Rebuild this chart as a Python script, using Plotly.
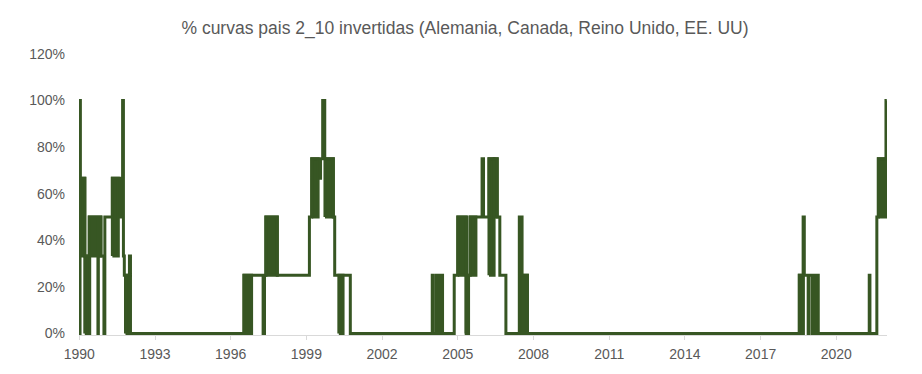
import plotly.graph_objects as go

# Step series: date where the share changes, and the new share of inverted curves
step_dates = [
    "1990-01-01", "1990-01-08", "1990-01-12", "1990-01-17", "1990-03-22", "1990-05-26",
    "1990-09-28", "1990-10-04", "1990-11-10", "1990-12-24", "1991-01-06", "1991-04-25",
    "1991-08-18", "1991-09-20", "1991-10-02", "1991-10-15", "1991-12-28", "1992-01-12",
    "1996-07-12", "1997-04-15", "1997-05-05", "1997-05-25", "1997-11-06", "1999-02-14",
    "1999-03-20", "1999-07-15", "1999-07-25", "1999-08-25", "1999-09-24", "2000-01-26",
    "2000-02-15", "2000-09-28", "2003-12-28", "2004-01-08", "2004-02-22", "2004-03-01",
    "2004-03-22", "2004-03-30", "2004-04-25", "2004-05-25", "2004-11-10", "2005-01-01",
    "2005-04-30", "2005-05-02", "2005-06-05", "2005-06-28", "2005-12-18", "2006-01-08",
    "2006-03-28", "2006-07-25", "2006-09-01", "2006-11-28", "2007-06-10", "2007-07-20",
    "2007-10-05", "2018-07-15", "2018-09-08", "2018-09-25", "2018-11-20", "2018-11-25",
    "2019-01-12", "2019-01-17", "2019-02-27", "2019-03-04", "2019-04-15", "2021-04-22",
    "2021-05-02", "2021-08-10", "2021-09-01", "2021-12-20", "2022-01-01",
]
step_values = [
    0.667, 0.0, 1.0, 0.667, 0.333, 0.5,
    0.0, 0.5, 0.333, 0.0, 0.5, 0.667,
    0.5, 1.0, 0.333, 0.25, 0.333, 0.0,
    0.25, 0.0, 0.25, 0.5, 0.25, 0.5,
    0.75, 0.667, 0.75, 1.0, 0.75, 0.5,
    0.25, 0.0, 0.25, 0.0, 0.25, 0.0,
    0.25, 0.0, 0.25, 0.0, 0.25, 0.5,
    0.25, 0.0, 0.25, 0.5, 0.75, 0.5,
    0.75, 0.5, 0.25, 0.0, 0.5, 0.25,
    0.0, 0.25, 0.5, 0.25, 0.0, 0.25,
    0.0, 0.25, 0.0, 0.25, 0.0, 0.25,
    0.0, 0.5, 0.75, 1.0, 1.0,
]

# Periods where the daily series flips back and forth between two levels
band_start = ["1990-01-03", "1990-03-22", "1990-05-26", "1991-04-25", "1991-11-01",
              "1996-07-12", "1997-05-25", "1999-03-20", "1999-09-27", "2000-04-15",
              "2005-01-01", "2005-04-30", "2005-06-28", "2006-03-28", "2006-06-10",
              "2007-06-20", "2018-07-15", "2021-09-01"]
band_end = ["1990-03-22", "1990-06-01", "1990-11-10", "1991-07-20", "1991-12-28",
            "1996-10-30", "1997-11-06", "1999-06-20", "2000-01-26", "2000-06-15",
            "2005-05-08", "2005-06-05", "2005-09-20", "2006-06-10", "2006-07-25",
            "2007-10-05", "2018-09-12", "2021-12-20"]
band_low = [0.333, 0.0, 0.333, 0.333, 0.0,
            0.0, 0.25, 0.5, 0.5, 0.0,
            0.25, 0.0, 0.25, 0.25, 0.5,
            0.0, 0.0, 0.5]
band_high = [0.667, 0.333, 0.5, 0.667, 0.25,
             0.25, 0.5, 0.75, 0.75, 0.25,
             0.5, 0.25, 0.5, 0.75, 0.75,
             0.25, 0.25, 0.75]

year_ticks = ["1990", "1993", "1996", "1999", "2002", "2005", "2008", "2011", "2014", "2017", "2020"]
y_ticks = [0, 0.2, 0.4, 0.6, 0.8, 1.0, 1.2]

GREEN = "#375623"
GREY = "#595959"

bx, by = [], []
for s, e, lo, hi in zip(band_start, band_end, band_low, band_high):
    bx += [s, s, e, e, s, None]
    by += [lo, hi, hi, lo, lo, None]

fig = go.Figure()
fig.add_trace(go.Scatter(x=bx, y=by, mode="lines", fill="toself", fillcolor=GREEN,
                         line=dict(color=GREEN, width=3), hoverinfo="skip", showlegend=False))
fig.add_trace(go.Scatter(x=step_dates, y=step_values, mode="lines",
                         line=dict(color=GREEN, width=3, shape="hv"), showlegend=False))

px_per_unit = 1.2 / 284.0
fig.update_layout(
    width=914, height=366,
    margin=dict(l=71, r=35, t=46, b=34),
    paper_bgcolor="white", plot_bgcolor="white",
    font=dict(family="Liberation Sans, Arial, sans-serif", size=14, color=GREY),
    title=dict(text="% curvas pais 2_10 invertidas (Alemania, Canada, Reino Unido, EE. UU)",
               x=0.5, xanchor="center", y=0.945, yanchor="middle",
               font=dict(size=17.5, color=GREY)),
    xaxis=dict(type="date", range=["1989-12-28", "2022-01-04"],
               tickmode="array", tickvals=[y + "-01-01" for y in year_ticks], ticktext=year_ticks,
               showgrid=False, showline=True, linecolor="#d9d9d9", linewidth=1,
               ticks="outside", ticklen=4, tickcolor="#d9d9d9", zeroline=False,
               ticklabelstandoff=2),
    yaxis=dict(range=[-1.5 * px_per_unit, 1.2], tickmode="array", tickvals=y_ticks,
               ticktext=[f"{int(round(v * 100))}%" for v in y_ticks],
               showgrid=False, showline=False, zeroline=False, ticks="", ticklabelstandoff=13),
)

fig.write_html("out.html")
